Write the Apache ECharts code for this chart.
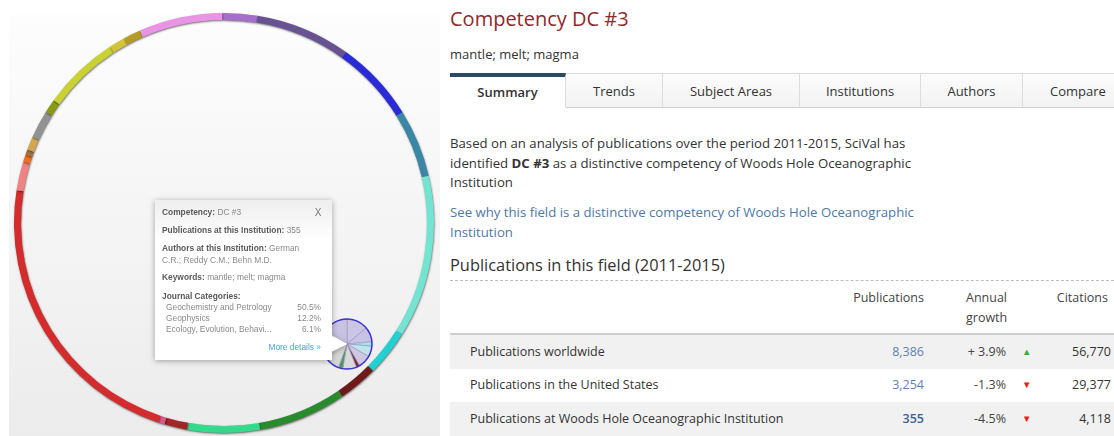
<!DOCTYPE html>
<html>
<head>
<meta charset="utf-8">
<script src="https://cdn.jsdelivr.net/npm/echarts@6.0.0/dist/echarts.min.js"></script>
<style>
body{margin:0;width:1114px;height:436px;overflow:hidden;background:#fff;position:relative;font-family:'Open Sans',sans-serif;color:#333}
#wheel{position:absolute;left:0;top:0;width:440px;height:436px}
.t{position:absolute;white-space:nowrap}
.tab{position:absolute;top:73px;height:34px;line-height:35px;text-align:center;font-size:13px;color:#333;
 border-top:1px solid #dcdcdc;border-right:1px solid #dcdcdc;border-bottom:1px solid #cfcfcf;
 background:linear-gradient(#fcfcfc,#f2f2f2);box-sizing:border-box;height:35px}
.tab.on{background:#fff;border-top:4px solid #2c4a64;border-bottom:1px solid #fff;line-height:31px;font-weight:600}
.row{position:absolute;left:450px;width:664px;font-size:12.5px}
.row.g{background:#f1f1f1}
.row span{position:absolute;top:0}
</style>
</head>
<body>
<div id="wheel"></div>
<div id="side"></div>
<script>
// 环形图的数据（每段所占角度）
var wheelNames = ['Group 1','Group 2','Group 3','Group 4','Group 5','Group 6','Group 7','Group 8','Group 9','Group 10','Group 11',
  'Group 12','Group 13','Group 14','Group 15','Group 16','Group 17','Group 18','Group 19','Group 20','Group 21','Group 22']
var wheelShares = [9.7, 26.3, 22.7, 18.8, 45.1, 12.7, 10.9, 24.4, 20.1, 6.3, 1.8, 80.7, 8, 2, 1.5, 3.7, 7.8, 3.8, 21.3, 4.5, 4.8, 23.1]
var wheelColors = ['#a66fcc','#685392','#2a2ad6','#3a86a6','#74e4d2','#22d0d2','#6e1a1a','#2a8a2e','#34d98c','#a22424','#e0568c',
  '#d42b2d','#f28282','#f0701c','#a47044','#d6a552','#929292','#8a9a14','#c9d232','#d4c23a','#b89c22','#e994e4']

// 小圆（选中的能力）
var miniShares = [50, 35, 10, 25, 30, 8, 32, 10, 60, 100]
var miniColors = ['#cbc5e6','#c8c2e4','#9ee6e8','#bfe3e6','#cdc7e4','#7a2a2a','#d9d9d9','#4a9a5a','#d6d6d6','#c9c3e3']

// 提示框内容
var tipCats = ['Geochemistry and Petrology', 'Geophysics', 'Ecology, Evolution, Behavi...']
var tipShares = ['50.5%', '12.2%', '6.1%']

// 表格数据
var rowLabels = ['Publications worldwide', 'Publications in the United States', 'Publications at Woods Hole Oceanographic Institution']
var rowPubs = ['8,386', '3,254', '355']
var rowGrowth = ['+ 3.9%', '-1.3%', '-4.5%']
var rowUp = [true, false, false]
var rowCites = ['56,770', '29,377', '4,118']

var tabs = ['Summary', 'Trends', 'Subject Areas', 'Institutions', 'Authors', 'Compare']
var tabEdges = [450, 566, 663, 800, 921, 1023, 1134]

// 右侧页面
var html = ''
html += '<div class="t" style="left:450px;top:5px;font-size:20px;line-height:28px;color:#8e2a2a">Competency DC #3</div>'
html += '<div class="t" style="left:450px;top:45px;font-size:13px;line-height:18px;color:#333">mantle; melt; magma</div>'
tabs.forEach((e, i) => {
  html += '<div class="tab' + (i == 0 ? ' on' : '') + '" style="left:' + tabEdges[i] + 'px;width:' + (tabEdges[i + 1] - tabEdges[i]) + 'px">' + e + '</div>'
})
html += '<div class="t" style="left:450px;top:134px;font-size:13.2px;line-height:19.5px;color:#333;white-space:normal;width:500px">' +
  'Based on an analysis of publications over the period 2011-2015, SciVal has<br>identified <b>DC #3</b> as a distinctive competency of Woods Hole Oceanographic<br>Institution</div>'
html += '<div class="t" style="left:450px;top:203px;font-size:13.2px;line-height:19.5px;color:#4f77a8">' +
  'See why this field is a distinctive competency of Woods Hole Oceanographic<br>Institution</div>'
html += '<div class="t" style="left:450px;top:254px;font-size:16.4px;line-height:22px;color:#333">Publications in this field (2011-2015)</div>'
html += '<div class="t" style="left:450px;top:280px;width:664px;border-top:1px dashed #bdbdbd"></div>'
html += '<div class="t" style="left:800px;top:288px;width:124px;text-align:right;font-size:12.5px;line-height:19px;color:#444">Publications</div>'
html += '<div class="t" style="left:966px;top:288px;font-size:12.5px;line-height:20px;color:#444">Annual<br>growth</div>'
html += '<div class="t" style="left:1030px;top:288px;width:78px;text-align:right;font-size:12.5px;line-height:19px;color:#444">Citations</div>'
html += '<div class="t" style="left:450px;top:333px;width:664px;height:2px;background:#cfcfcf"></div>'
var rowTops = [335, 368, 402]
rowLabels.forEach((e, i) => {
  var h = 34
  html += '<div class="row' + (i % 2 == 0 ? ' g' : '') + '" style="top:' + rowTops[i] + 'px;height:' + h + 'px;line-height:' + h + 'px">' +
    '<span style="left:20px;color:#333">' + e + '</span>' +
    '<span style="left:400px;width:74px;text-align:right;color:' + (i == 2 ? '#3d5f96;font-weight:600' : '#5f82b3') + '">' + rowPubs[i] + '</span>' +
    '<span style="left:480px;width:76px;text-align:right;color:#444">' + rowGrowth[i] + '</span>' +
    '<span style="left:572px;font-size:9.5px;color:' + (rowUp[i] ? '#3aae3f' : '#e2231a') + '">' + (rowUp[i] ? '&#9650;' : '&#9660;') + '</span>' +
    '<span style="left:580px;width:81px;text-align:right;color:#333">' + rowCites[i] + '</span></div>'
})
document.getElementById('side').innerHTML = html

// 环形图
var myChart = echarts.init(document.getElementById('wheel'))

var wheelData = wheelNames.map((n, i) => ({ name: n, value: wheelShares[i], itemStyle: { color: wheelColors[i] } }))
var miniData = miniShares.map((v, i) => ({ name: 'part ' + (i + 1), value: v, itemStyle: { color: miniColors[i] } }))

var tipFont = 'Liberation Sans, Arial, sans-serif'
function tipLine(y, rich, text) {
  return { type: 'text', z: 12, style: { x: 162, y: y, text: text, verticalAlign: 'middle', fontSize: 8.4, fontFamily: tipFont, fill: '#8a8a8a', rich: rich } }
}
var rich = {
  b: { fontWeight: 'bold', fill: '#5a5a5a', fontSize: 8.4, fontFamily: tipFont },
  v: { fill: '#8a8a8a', fontSize: 8.4, fontFamily: tipFont }
}

var tipEls = [
  { type: 'polygon', z: 9, shape: { points: [[330, 334], [347, 344], [330, 353]] },
    style: { fill: '#fff', shadowBlur: 5, shadowColor: 'rgba(0,0,0,0.35)', shadowOffsetY: 1 } },
  { type: 'rect', z: 10, shape: { x: 155, y: 200, width: 177, height: 160 },
    style: { fill: new echarts.graphic.LinearGradient(0, 0, 0, 1, [
      { offset: 0, color: '#eeeeee' }, { offset: 0.25, color: '#ffffff' }, { offset: 1, color: '#ffffff' }]),
      shadowBlur: 6, shadowColor: 'rgba(0,0,0,0.35)', shadowOffsetY: 1 } },
  { type: 'polygon', z: 11, shape: { points: [[328, 334.5], [347, 344], [328, 352.5]] }, style: { fill: '#fff' } },
  tipLine(213, rich, '{b|Competency:} {v|DC #3}'),
  { type: 'text', z: 12, style: { x: 318, y: 213, text: 'X', align: 'center', verticalAlign: 'middle', fontSize: 10, fontFamily: tipFont, fill: '#777' } },
  tipLine(231, rich, '{b|Publications at this Institution:} {v|355}'),
  tipLine(249, rich, '{b|Authors at this Institution:} {v|German}'),
  tipLine(261, rich, '{v|C.R.; Reddy C.M.; Behn M.D.}'),
  tipLine(278, rich, '{b|Keywords:} {v|mantle; melt; magma}'),
  tipLine(297, rich, '{b|Journal Categories:}')
]
tipCats.forEach((c, i) => {
  tipEls.push({ type: 'text', z: 12, style: { x: 166, y: 308 + i * 10.7, text: c, verticalAlign: 'middle', fontSize: 8.4, fontFamily: tipFont, fill: '#8a8a8a' } })
  tipEls.push({ type: 'text', z: 12, style: { x: 321, y: 308 + i * 10.7, text: tipShares[i], align: 'right', verticalAlign: 'middle', fontSize: 8.4, fontFamily: tipFont, fill: '#8a8a8a' } })
})
tipEls.push({ type: 'text', z: 12, style: { x: 321, y: 348, text: 'More details \u00bb', align: 'right', verticalAlign: 'middle', fontSize: 8.4, fontFamily: tipFont, fill: '#4aa3d3' } })

var option = {
  animation: false,
  graphic: [
    { type: 'rect', z: -10, shape: { x: 9, y: 15, width: 431, height: 421 },
      style: { fill: new echarts.graphic.LinearGradient(0, 0, 0, 1, [{ offset: 0, color: '#fdfdfd' }, { offset: 1, color: '#ececec' }]) } },
    { type: 'circle', z: 5, shape: { cx: 347, cy: 344, r: 25 }, style: { fill: 'none', stroke: '#3b34d0', lineWidth: 1.5 } }
  ].concat(tipEls),
  series: [
    {
      name: 'wheel',
      type: 'pie',
      center: [224, 223],
      radius: [203, 210],
      startAngle: 90.5,
      clockwise: true,
      silent: true,
      label: { show: false },
      labelLine: { show: false },
      itemStyle: { shadowBlur: 2, shadowColor: 'rgba(0,0,0,0.55)', shadowOffsetY: 1, shadowOffsetX: 0.5 },
      data: wheelData
    },
    {
      name: 'competency',
      type: 'pie',
      center: [347, 344],
      radius: [0, 25],
      startAngle: 90,
      silent: true,
      label: { show: false },
      labelLine: { show: false },
      itemStyle: { borderColor: '#9a90c4', borderWidth: 0.6 },
      data: miniData
    }
  ]
}

myChart.setOption(option)
</script>
</body>
</html>
